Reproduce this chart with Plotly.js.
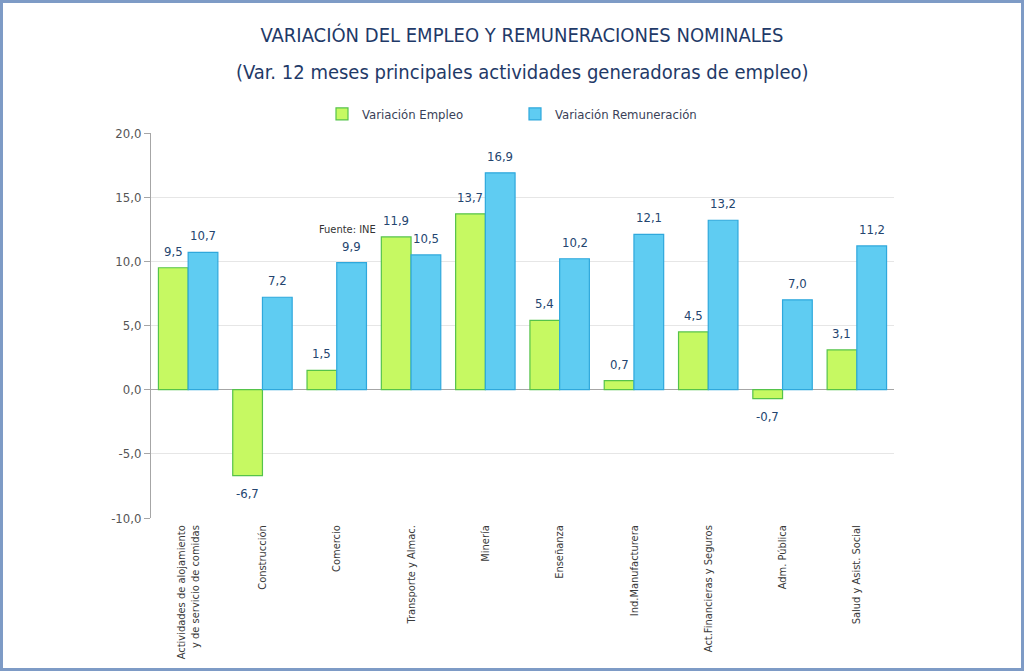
<!DOCTYPE html>
<html><head><meta charset="utf-8">
<script src="https://cdn.plot.ly/plotly-3.0.1.min.js"></script>
<style>
html,body{margin:0;padding:0;background:#fff;}
#wrap{position:relative;width:1024px;height:671px;}
#chart{width:1024px;height:671px;}
#frame{position:absolute;left:0;top:0;width:1024px;height:671px;box-sizing:border-box;border:3px solid #7E9BC6;pointer-events:none;}
</style></head>
<body>
<div id="wrap"><div id="chart"></div><div id="frame"></div></div>
<script>
const categories = [
  "Actividades de alojamiento<br>y de servicio de comidas",
  "Construcción",
  "Comercio",
  "Transporte y Almac.",
  "Minería",
  "Enseñanza",
  "Ind.Manufacturera",
  "Act.Financieras y Seguros",
  "Adm. Pública",
  "Salud y Asist. Social"
];
const empleo = [9.5, -6.7, 1.5, 11.9, 13.7, 5.4, 0.7, 4.5, -0.7, 3.1];
const remuneracion = [10.7, 7.2, 9.9, 10.5, 16.9, 10.2, 12.1, 13.2, 7.0, 11.2];
const yTicks = [-10, -5, 0, 5, 10, 15, 20];
const yTickText = ["-10,0", "-5,0", "0,0", "5,0", "10,0", "15,0", "20,0"];

const FONT = "'DejaVu Sans Condensed', 'Liberation Sans Narrow', sans-serif";
const NAVY = "#1F3A68";
const LABEL = "#24456F";

const W = 1024, H = 671;
const M = {l:151, r:130, t:133, b:153};
const BARGAP = 0.2;
const plotW = W - M.l - M.r;
const plotH = H - M.t - M.b;
const catW = plotW / categories.length;
const barW = catW * (1 - BARGAP) / 2;
const pyPaper = py => (H - M.b - py) / plotH;

const fmt = v => v.toFixed(1).replace('.', ',');
const annotations = [];
[[empleo, -barW/2], [remuneracion, barW/2]].forEach(([arr, dx]) => {
  arr.forEach((v, i) => {
    annotations.push({x: categories[i], y: v, xref:'x', yref:'y', text: fmt(v), showarrow:false,
      xshift: dx, yshift: v >= 0 ? 7 : -8, yanchor: v >= 0 ? 'bottom' : 'top',
      font:{family:FONT, size:13, color:LABEL}});
  });
});
annotations.push({text:'Fuente: INE', x:categories[2], y:11.8, xref:'x', yref:'y', xshift:11, showarrow:false,
                  font:{family:FONT, size:11, color:'#333'}, yanchor:'bottom'});
annotations.push({text:'(Var. 12 meses principales actividades generadoras de empleo)', xref:'paper', yref:'paper',
                  x:(522 - M.l)/plotW, y:pyPaper(72), xanchor:'center', yanchor:'middle', showarrow:false,
                  font:{family:FONT, size:20, color:NAVY}});

const traces = [
  {type:'bar', name:'Variación Empleo', x:categories, y:empleo, legend:'legend',
   marker:{color:'#C6F962', line:{color:'#55C34A', width:1.2}}},
  {type:'bar', name:'Variación Remuneración', x:categories, y:remuneracion, legend:'legend2',
   marker:{color:'#5FCCF2', line:{color:'#2FA8DC', width:1.2}}}
];

const legendFont = {family:FONT, size:13, color:'#3A3F58'};
const layout = {
  width:W, height:H,
  separators:',.',
  font:{family:FONT, color:'#444'},
  paper_bgcolor:'#fff', plot_bgcolor:'#fff',
  margin:M,
  title:{text:'VARIACIÓN DEL EMPLEO Y REMUNERACIONES NOMINALES',
         font:{family:FONT, size:20, color:NAVY}, x:522/W, xanchor:'center', yref:'container', y:1 - 35/H, yanchor:'middle'},
  barmode:'group', bargap:BARGAP, bargroupgap:0,
  showlegend:true,
  legend:{orientation:'h', x:(322 - M.l)/plotW, xanchor:'left', y:pyPaper(114), yanchor:'middle', font:legendFont},
  legend2:{orientation:'h', x:(515 - M.l)/plotW, xanchor:'left', y:pyPaper(114), yanchor:'middle', font:legendFont},
  xaxis:{type:'category', tickangle:-90, tickfont:{family:FONT, size:11, color:'#3A3A3A'},
         showline:false, ticks:'', showgrid:false, ticklabelstandoff:4},
  yaxis:{range:[-10,20], tickvals:yTicks, ticktext:yTickText, tickfont:{family:FONT, size:13, color:'#555'},
         showgrid:true, gridcolor:'#E6E6E6', gridwidth:1,
         zeroline:true, zerolinecolor:'#A6A6A6', zerolinewidth:1,
         showline:true, linecolor:'#A6A6A6', linewidth:1, ticks:'outside', ticklen:6, tickcolor:'#A6A6A6'},
  annotations:annotations
};
Plotly.newPlot('chart', traces, layout, {displayModeBar:false, staticPlot:true});
</script>
</body></html>
